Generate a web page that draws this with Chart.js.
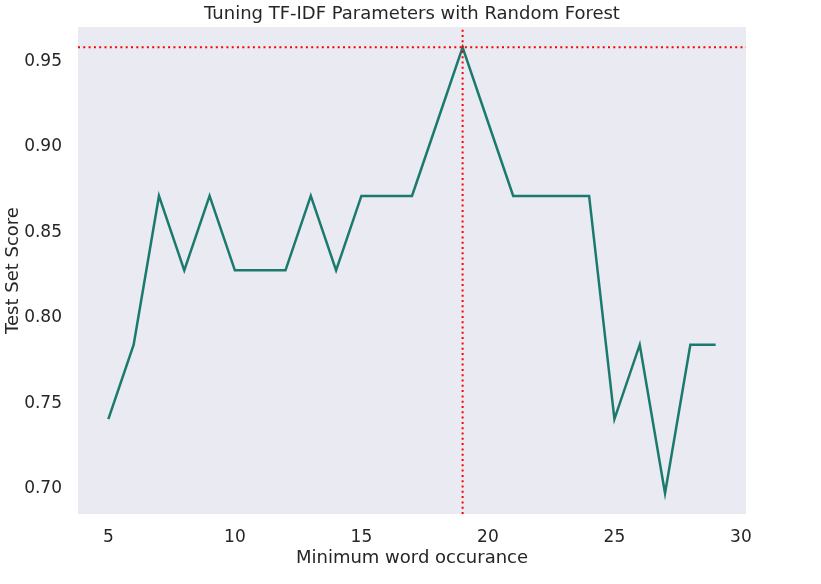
<!DOCTYPE html>
<html>
<head>
<meta charset="utf-8">
<script src="https://cdn.jsdelivr.net/npm/chart.js@4/dist/chart.umd.min.js"></script>
<style>
  body { margin: 0; background: #fff; }
  #wrap { width: 821px; height: 584px; }
</style>
</head>
<body>
<div id="wrap"><canvas id="chart" width="821" height="584"></canvas></div>
<script>
// data
const minOccurrence = [5, 6, 7, 8, 9, 10, 11, 12, 13, 14, 15, 16, 17, 18, 19, 20, 21, 22, 23, 24, 25, 26, 27, 28, 29];
const testScores = [0.7391, 0.7826, 0.8696, 0.8261, 0.8696, 0.8261, 0.8261, 0.8261, 0.8696, 0.8261,
                    0.8696, 0.8696, 0.8696, 0.9130, 0.9565, 0.9130, 0.8696, 0.8696, 0.8696, 0.8696,
                    0.7391, 0.7826, 0.6957, 0.7826, 0.7826];
const xTicks = [5, 10, 15, 20, 25, 30];
const yTicks = [0.70, 0.75, 0.80, 0.85, 0.90, 0.95];

const bestScore = Math.max(...testScores);
const bestX = minOccurrence[testScores.indexOf(bestScore)];

// axis limits as measured on the reference
const xMin = 3.8;
const xMax = 30.2;
const yMin = 0.6836;
const yMax = 0.9684;

const TEXT = '#262626';
const FONT = "'DejaVu Sans', sans-serif";

const plotBg = {
    id: 'plotBg',
    beforeDraw(chart) {
        const { ctx, chartArea: a } = chart;
        ctx.save();
        ctx.fillStyle = '#EAEAF2';
        ctx.fillRect(a.left, a.top, a.right - a.left, a.bottom - a.top);
        ctx.restore();
    },
    afterDraw(chart) {
        // title centred over the plot area
        const { ctx, chartArea: a } = chart;
        ctx.save();
        ctx.fillStyle = TEXT;
        ctx.font = '18px ' + FONT;
        ctx.textAlign = 'center';
        ctx.textBaseline = 'middle';
        ctx.fillText('Tuning TF-IDF Parameters with Random Forest', (a.left + a.right) / 2, 14);
        ctx.restore();
    }
};

new Chart(document.getElementById('chart'), {
    type: 'line',
    data: {
        datasets: [
            {
                data: minOccurrence.map((x, i) => ({ x: x, y: testScores[i] })),
                borderColor: '#1b7a6e',
                borderWidth: 2.5,
                pointRadius: 0,
                tension: 0,
                order: 2
            },
            {
                data: [{ x: bestX, y: yMin }, { x: bestX, y: yMax }],
                borderColor: '#ff0000',
                borderWidth: 2,
                borderDash: [2, 3.3],
                pointRadius: 0,
                order: 1
            },
            {
                data: [{ x: xMin, y: bestScore }, { x: xMax, y: bestScore }],
                borderColor: '#ff0000',
                borderWidth: 2,
                borderDash: [2, 3.3],
                pointRadius: 0,
                order: 1
            }
        ]
    },
    options: {
        responsive: false,
        animation: false,
        layout: { padding: { top: 27, right: 75, left: 0, bottom: 0 } },
        plugins: {
            legend: { display: false },
            tooltip: { enabled: false }
        },
        scales: {
            x: {
                type: 'linear',
                min: xMin,
                max: xMax,
                grid: { display: false, drawTicks: false },
                border: { display: false },
                afterBuildTicks: (s) => { s.ticks = xTicks.map(v => ({ value: v })); },
                afterFit: (s) => { s.height = 70; },
                ticks: {
                    color: TEXT,
                    font: { family: FONT, size: 17 },
                    padding: 13,
                    maxRotation: 0
                },
                title: {
                    display: true,
                    text: 'Minimum word occurance',
                    color: TEXT,
                    font: { family: FONT, size: 18 },
                    padding: { top: 0, bottom: 15 }
                }
            },
            y: {
                min: yMin,
                max: yMax,
                grid: { display: false, drawTicks: false },
                border: { display: false },
                afterBuildTicks: (s) => { s.ticks = yTicks.map(v => ({ value: v })); },
                afterFit: (s) => { s.width = 78; },
                ticks: {
                    color: TEXT,
                    font: { family: FONT, size: 17 },
                    padding: 16,
                    labelOffset: 3,
                    callback: (v) => v.toFixed(2)
                },
                title: {
                    display: true,
                    text: 'Test Set Score',
                    color: TEXT,
                    font: { family: FONT, size: 18 },
                    padding: { top: 3, bottom: 0 }
                }
            }
        }
    },
    plugins: [plotBg]
});
</script>
</body>
</html>
